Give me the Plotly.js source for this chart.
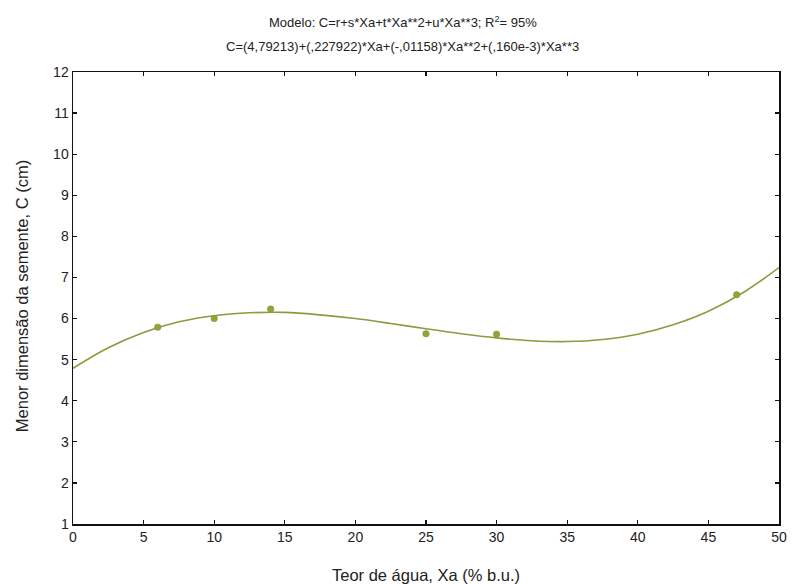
<!DOCTYPE html>
<html>
<head>
<meta charset="utf-8">
<script src="https://cdn.plot.ly/plotly-3.0.1.min.js"></script>
<style>html,body{margin:0;padding:0;background:#fff;}#chart{width:792px;height:584px;}</style>
</head>
<body>
<div id="chart"></div>
<script>
// Observed points
const teorAgua = [6, 10, 14, 25, 30, 47];
const menorDimensao = [5.79, 6.0, 6.23, 5.63, 5.62, 6.58];

// Fitted curve
const curvaX = [0, 2.5, 5, 7.5, 10, 12.5, 15, 17.5, 20, 22.5, 25, 27.5, 30, 32.5, 35, 37.5, 40, 42.5, 45, 47.5, 50];
const curvaY = [4.79, 5.29, 5.66, 5.92, 6.07, 6.14, 6.15, 6.09, 6.0, 5.88, 5.75, 5.63, 5.53, 5.46, 5.44, 5.49, 5.62, 5.85, 6.18, 6.64, 7.24];

const xTicks = [0, 5, 10, 15, 20, 25, 30, 35, 40, 45, 50];
const yTicks = [1, 2, 3, 4, 5, 6, 7, 8, 9, 10, 11, 12];

const titulo1 = 'Modelo: C=r+s*Xa+t*Xa**2+u*Xa**3; R<sup>2</sup>= 95%';
const titulo2 = 'C=(4,79213)+(,227922)*Xa+(-,01158)*Xa**2+(,160e-3)*Xa**3';
const tituloX = 'Teor de água, Xa (% b.u.)';
const tituloY = 'Menor dimensão da semente, C (cm)';

const fontFam = 'Liberation Sans, Arial, sans-serif';

const traces = [
  {
    x: curvaX, y: curvaY, type: 'scatter', mode: 'lines',
    line: {color: '#8f9a3e', width: 1.6, shape: 'spline'},
    hoverinfo: 'skip', showlegend: false
  },
  {
    x: teorAgua, y: menorDimensao, type: 'scatter', mode: 'markers',
    marker: {color: '#8ea53a', size: 6.5, line: {color: '#7f9434', width: 0.5}},
    showlegend: false
  }
];

const axisCommon = {
  showgrid: false, zeroline: false, showline: true, linecolor: '#111', linewidth: 1.5,
  mirror: 'ticks', ticks: 'inside', ticklen: 4, tickwidth: 1.2, tickcolor: '#111',
  tickfont: {family: fontFam, size: 14, color: '#222'}
};

const layout = {
  width: 792, height: 584,
  paper_bgcolor: '#ffffff', plot_bgcolor: '#ffffff',
  margin: {l: 73, r: 13, t: 72, b: 60},
  xaxis: Object.assign({}, axisCommon, {
    range: [0, 50], tickvals: xTicks, ticktext: xTicks.map(String)
  }),
  yaxis: Object.assign({}, axisCommon, {
    range: [1, 12], tickvals: yTicks, ticktext: yTicks.map(String)
  }),
  annotations: [
    {text: titulo1, xref: 'paper', yref: 'paper', x: 0.467, y: 1, yshift: 50, showarrow: false,
     xanchor: 'center', yanchor: 'middle', font: {family: fontFam, size: 13, color: '#222'}},
    {text: titulo2, xref: 'paper', yref: 'paper', x: 0.467, y: 1, yshift: 26, showarrow: false,
     xanchor: 'center', yanchor: 'middle', font: {family: fontFam, size: 13, color: '#222'}},
    {text: tituloX, xref: 'paper', yref: 'paper', x: 0.5, y: 0, yshift: -51, showarrow: false,
     xanchor: 'center', yanchor: 'middle', font: {family: fontFam, size: 16.5, color: '#222'}},
    {text: tituloY, xref: 'paper', yref: 'paper', x: 0, y: 0.504, xshift: -51, showarrow: false,
     textangle: -90, xanchor: 'center', yanchor: 'middle', font: {family: fontFam, size: 16.5, color: '#222'}}
  ]
};

Plotly.newPlot('chart', traces, layout, {displayModeBar: false, staticPlot: true});
</script>
</body>
</html>
